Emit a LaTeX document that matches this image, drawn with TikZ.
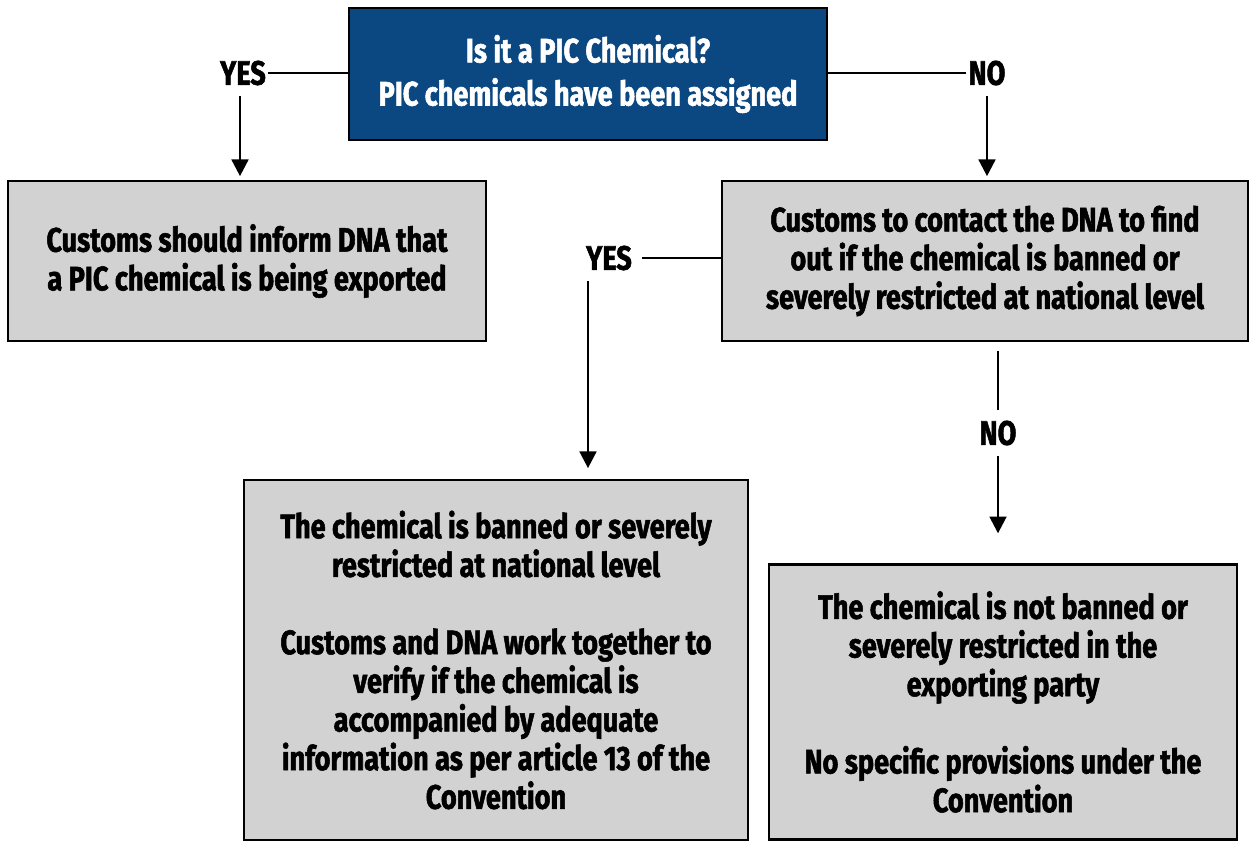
\documentclass[tikz,border=0pt]{standalone}
\usepackage{fontspec}
\setmainfont{Fira Sans}[FakeStretch=0.8,BoldFeatures={FakeBold=1.6}]
\usetikzlibrary{arrows.meta}
\definecolor{picblue}{RGB}{11,71,128}
\definecolor{boxgray}{RGB}{210,210,210}
\begin{document}
\begin{tikzpicture}[x=0.02cm,y=-0.02cm,
  every node/.style={font=\bfseries\fontsize{19.3}{22}\selectfont},
  box/.style={draw=black,line width=1.5pt,rectangle,align=center,inner sep=0pt},
  question/.style={box,fill=picblue,text=white,font=\bfseries\fontsize{19.3}{24.5}\selectfont},
  outcome/.style={box,fill=boxgray,text=black},
  answer/.style={inner sep=1pt,outer ysep=5pt,outer xsep=0.5pt},
  link/.style={line width=1.5pt},
  arr/.style={line width=1.5pt,-{Triangle[width=9.5pt,length=9.5pt]}}]
\useasboundingbox (0,0) rectangle (1250,842);
% decision and outcome boxes
\node[question,minimum width=478*0.02cm,minimum height=132*0.02cm] (q) at (588,74)
  {Is it a PIC Chemical?\\PIC chemicals have been assigned};
\node[outcome,minimum width=478*0.02cm,minimum height=160*0.02cm] (inform) at (247,261)
  {Customs should inform DNA that\\a PIC chemical is being exported};
\node[outcome,minimum width=526*0.02cm,minimum height=160*0.02cm] (contact) at (985,261)
  {Customs to contact the DNA to find\\out if the chemical is banned or\\severely restricted at national level};
\node[outcome,minimum width=504*0.02cm,minimum height=360*0.02cm] (banned) at (496,660)
  {The chemical is banned or severely\\restricted at national level\\[22pt]Customs and DNA work together to\\verify if the chemical is\\accompanied by adequate\\information as per article 13 of the\\Convention};
\node[outcome,minimum width=468*0.02cm,minimum height=275*0.02cm] (notbanned) at (1003,702)
  {The chemical is not banned or\\severely restricted in the\\exporting party\\[22pt]No specific provisions under the\\Convention};
% answer labels
\node[answer] (yes1) at (243,73) {YES};
\node[answer] (no1) at (987,73) {NO};
\node[answer,outer xsep=5pt] (yes2) at (609,258) {YES};
\node[answer] (no2) at (998,433) {NO};
% connectors
\draw[link] (yes1.east) -- (yes1.east -| q.west);
\draw[link] (q.east |- no1.west) -- (no1.west);
\draw[arr,shorten >=2pt] (yes1.south -| 240,0) -- (240,0 |- inform.north);
\draw[arr,shorten >=2pt] (no1.south) -- (no1.south |- contact.north);
\draw[link] (yes2.east) -- (yes2.east -| contact.west);
\draw[arr,shorten >=6pt] (yes2.south -| 588,0) -- (588,0 |- banned.north);
\draw[link,shorten <=5pt] (no2 |- contact.south) -- (no2.north);
\draw[arr,shorten >=17pt] (no2.south) -- (no2 |- notbanned.north);
\end{tikzpicture}
\end{document}
